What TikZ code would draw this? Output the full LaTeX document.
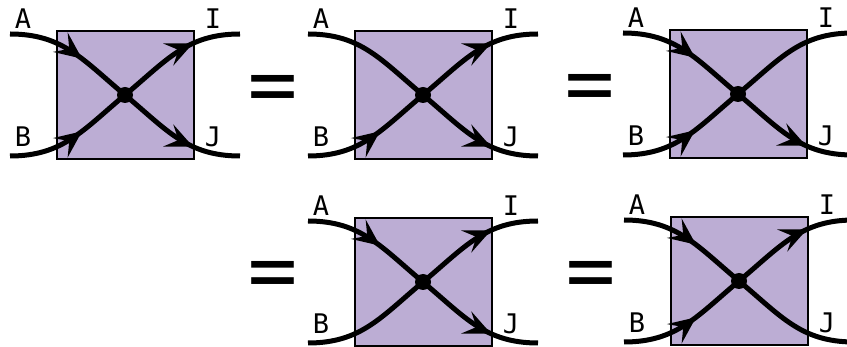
\documentclass[tikz,border=0pt]{standalone}
\usepackage{fontspec}
\newfontfamily\labfont{DejaVu Sans Mono}
\newfontfamily\eqfont{DejaVu Sans}
\usetikzlibrary{arrows.meta,decorations.markings}
\definecolor{boxpurple}{RGB}{188,173,212}
\tikzset{
  strand/.style={line width=5pt},
  headtip/.tip={Stealth[length=27pt,width=24pt,inset=11pt]},
  arrin/.style={postaction={decorate,decoration={markings,mark=at position 0.58 with {\arrow{headtip}}}}},
  arrout/.style={postaction={decorate,decoration={markings,mark=at position 0.64 with {\arrow{headtip}}}}},
  noarr/.style={},
  cellbox/.style={draw=black,line width=2pt,fill=boxpurple,minimum width=137pt,minimum height=128pt,inner sep=0pt},
  vertex/.style={circle,fill=black,inner sep=0pt,minimum size=16pt},
  lab/.style={font=\labfont\fontsize{27}{27}\selectfont,inner sep=0pt},
  eqsign/.style={font=\eqfont\fontsize{68}{68}\selectfont,inner sep=0pt},
}
% #1 name, #2 x, #3 y, #4..#7 styles for A, B, I, J strands
\newcommand\xpanel[7]{%
  \begin{scope}[shift={(#2,#3)}]
    \node[cellbox] (#1box) at (0,0) {};
    \coordinate (#1c) at (0,0);
    \coordinate (#1a) at (-115,-61);
    \coordinate (#1b) at (-115,61);
    \coordinate (#1i) at (115,-61);
    \coordinate (#1j) at (115,61);
    \draw[strand,#4] (#1a) .. controls (-62,-61) and (-42,-35) .. (#1c);
    \draw[strand,#5] (#1b) .. controls (-62,61) and (-42,35) .. (#1c);
    \draw[strand,#6] (#1c) .. controls (42,-35) and (62,-61) .. (#1i);
    \draw[strand,#7] (#1c) .. controls (42,35) and (62,61) .. (#1j);
    \node[vertex] (#1v) at (#1c) {};
    \node[lab] (#1la) at (-102,-76) {A};
    \node[lab] (#1lb) at (-102,42) {B};
    \node[lab] (#1li) at (88,-76) {I};
    \node[lab] (#1lj) at (88,42) {J};
  \end{scope}}
\begin{document}
\begin{tikzpicture}[x=1pt,y=-1pt]
  \clip (0,0) rectangle (847,347);
  \fill[white] (0,0) rectangle (847,347);
  \xpanel{p1}{125}{95}{arrin}{arrin}{arrout}{arrout}
  \xpanel{p2}{423}{95}{noarr}{arrin}{arrout}{arrout}
  \xpanel{p3}{738}{94}{arrin}{arrin}{noarr}{arrout}
  \xpanel{p4}{423}{282}{arrin}{noarr}{arrout}{arrout}
  \xpanel{p5}{739}{281}{arrin}{arrin}{arrout}{noarr}
  \node[eqsign] (e1) at (272.5,94) {\scalebox{1}[1.2]{=}};
  \node[eqsign] (e2) at (589.5,93) {\scalebox{1}[1.2]{=}};
  \node[eqsign] (e3) at (272.5,280) {\scalebox{1}[1.2]{=}};
  \node[eqsign] (e4) at (590.5,280) {\scalebox{1}[1.2]{=}};
\end{tikzpicture}
\end{document}
